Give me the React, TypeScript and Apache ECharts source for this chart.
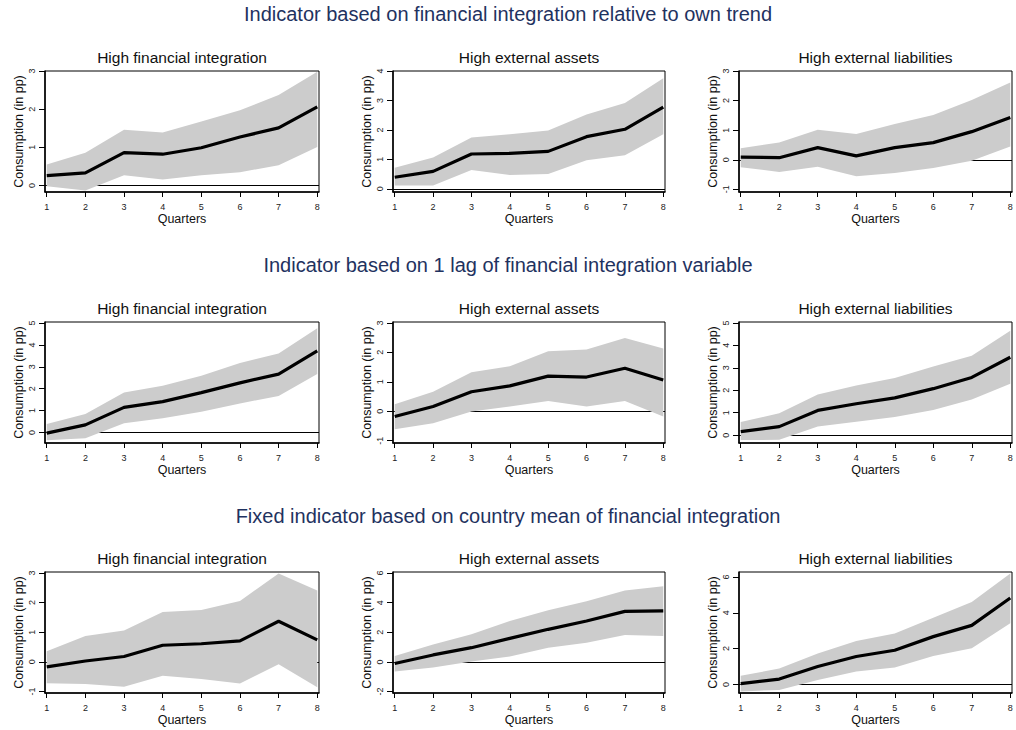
import React, { useEffect, useRef } from 'react';
import * as echarts from 'echarts';

// quarters after the shock
const quarters = [1, 2, 3, 4, 5, 6, 7, 8];

const rowTitles = [
    'Indicator based on financial integration relative to own trend',
    'Indicator based on 1 lag of financial integration variable',
    'Fixed indicator based on country mean of financial integration',
];
const panelTitles = ['High financial integration', 'High external assets', 'High external liabilities'];

// row 1: relative to own trend (fin. integration, assets, liabilities)
const trendMid = [
    [0.26, 0.33, 0.86, 0.82, 0.99, 1.27, 1.51, 2.06],
    [0.39, 0.59, 1.18, 1.2, 1.27, 1.77, 2.02, 2.77],
    [0.09, 0.07, 0.41, 0.13, 0.41, 0.58, 0.95, 1.43],
];
const trendHi = [
    [0.55, 0.86, 1.46, 1.39, 1.68, 1.97, 2.37, 2.98],
    [0.71, 1.06, 1.74, 1.85, 1.98, 2.52, 2.91, 3.75],
    [0.39, 0.58, 1.01, 0.87, 1.21, 1.51, 2.02, 2.61],
];
const trendLo = [
    [-0.02, -0.13, 0.27, 0.16, 0.27, 0.35, 0.53, 1.01],
    [0.11, 0.11, 0.64, 0.47, 0.5, 0.97, 1.14, 1.85],
    [-0.25, -0.41, -0.24, -0.56, -0.45, -0.28, -0.03, 0.45],
];

// row 2: 1 lag
const lagMid = [
    [-0.03, 0.35, 1.15, 1.41, 1.82, 2.27, 2.67, 3.73],
    [-0.18, 0.16, 0.66, 0.86, 1.19, 1.16, 1.46, 1.06],
    [0.16, 0.38, 1.1, 1.4, 1.66, 2.07, 2.57, 3.47],
];
const lagHi = [
    [0.39, 0.85, 1.83, 2.14, 2.59, 3.18, 3.61, 4.77],
    [0.24, 0.66, 1.32, 1.53, 2.04, 2.1, 2.49, 2.13],
    [0.59, 0.97, 1.81, 2.21, 2.54, 3.06, 3.54, 4.65],
];
const lagLo = [
    [-0.36, -0.26, 0.42, 0.65, 0.95, 1.33, 1.67, 2.67],
    [-0.61, -0.41, -0.01, 0.16, 0.35, 0.16, 0.35, -0.18],
    [-0.22, -0.21, 0.38, 0.6, 0.81, 1.12, 1.59, 2.29],
];

// row 3: country mean
const meanMid = [
    [-0.17, 0.03, 0.18, 0.56, 0.61, 0.71, 1.37, 0.74],
    [-0.11, 0.47, 0.96, 1.59, 2.2, 2.76, 3.41, 3.45],
    [0.04, 0.3, 1.0, 1.56, 1.91, 2.67, 3.3, 4.83],
];
const meanHi = [
    [0.36, 0.87, 1.06, 1.68, 1.75, 2.05, 2.98, 2.41],
    [0.4, 1.17, 1.86, 2.76, 3.48, 4.1, 4.82, 5.11],
    [0.48, 0.89, 1.72, 2.43, 2.85, 3.72, 4.61, 6.19],
];
const meanLo = [
    [-0.72, -0.75, -0.84, -0.47, -0.58, -0.73, -0.08, -0.86],
    [-0.65, -0.38, 0.02, 0.36, 0.96, 1.3, 1.82, 1.75],
    [-0.39, -0.31, 0.24, 0.72, 0.94, 1.59, 2.02, 3.41],
];

// y tick labels and y ranges, panel by panel (row-major)
const yTicks = [
    [0, 1, 2, 3], [0, 1, 2, 3, 4], [-1, 0, 1, 2, 3],
    [0, 1, 2, 3, 4, 5], [-1, 0, 1, 2, 3], [0, 1, 2, 3, 4, 5],
    [-1, 0, 1, 2, 3], [-2, 0, 2, 4, 6], [0, 2, 4, 6],
];
const yRange = [
    [-0.17, 3.0], [-0.11, 4.0], [-1.09, 3.0],
    [-0.48, 5.05], [-1.08, 3.03], [-0.35, 5.04],
    [-1.05, 3.03], [-2.1, 6.07], [-0.48, 6.28],
];

const FONT = '"Liberation Sans", Arial, Helvetica, sans-serif';

export default function App() {
    const chartRef = useRef<HTMLDivElement>(null);

    useEffect(() => {
        if (!chartRef.current) return;
        const chart = echarts.init(chartRef.current, null, { renderer: 'svg' });

        const mids = [trendMid, lagMid, meanMid];
        const his = [trendHi, lagHi, meanHi];
        const los = [trendLo, lagLo, meanLo];

        const colLeft = [45, 393, 739];
        const colWidth = [274, 272, 273];
        const rowTop = [71, 322, 572];
        const plotH = 121;
        const rowTitleY = [14, 265, 516];

        const grids: any[] = [];
        const xAxes: any[] = [];
        const yAxes: any[] = [];
        const series: any[] = [];
        const graphics: any[] = [];

        rowTitles.forEach((t, r) => {
            graphics.push({
                type: 'text',
                x: 508,
                y: rowTitleY[r],
                style: { text: t, font: `20px ${FONT}`, fill: '#1f3260', align: 'center', verticalAlign: 'middle' },
            });
        });

        for (let r = 0; r < 3; r++) {
            for (let c = 0; c < 3; c++) {
                const i = r * 3 + c;
                graphics.push({
                    type: 'text',
                    x: colLeft[c] + colWidth[c] / 2,
                    y: rowTop[r] - 14,
                    style: { text: panelTitles[c], font: `15.5px ${FONT}`, fill: '#111', align: 'center', verticalAlign: 'middle' },
                });

                grids.push({
                    left: colLeft[c],
                    top: rowTop[r],
                    width: colWidth[c],
                    height: plotH,
                    show: true,
                    borderColor: '#000',
                    borderWidth: 1,
                    backgroundColor: 'transparent',
                });

                xAxes.push({
                    type: 'value',
                    gridIndex: i,
                    min: 0.955,
                    max: 8.045,
                    name: 'Quarters',
                    nameLocation: 'middle',
                    nameGap: 20,
                    nameTextStyle: { fontFamily: FONT, fontSize: 12.5, color: '#111' },
                    axisLine: { show: true, onZero: false, lineStyle: { color: '#000', width: 1.5 } },
                    axisTick: { show: true, length: 5, customValues: quarters, lineStyle: { color: '#000' } },
                    axisLabel: { customValues: quarters, fontFamily: FONT, fontSize: 9, color: '#222', margin: 10 },
                    splitLine: { show: false },
                });

                yAxes.push({
                    type: 'value',
                    gridIndex: i,
                    min: yRange[i][0],
                    max: yRange[i][1],
                    name: 'Consumption (in pp)',
                    nameLocation: 'middle',
                    nameGap: 20,
                    nameTextStyle: { fontFamily: FONT, fontSize: 12.5, color: '#111' },
                    axisLine: { show: true, onZero: false, lineStyle: { color: '#000', width: 1.5 } },
                    axisTick: { show: true, length: 6, customValues: yTicks[i], lineStyle: { color: '#000' } },
                    axisLabel: { customValues: yTicks[i], rotate: 90, fontFamily: FONT, fontSize: 9, color: '#222', margin: 9 },
                    splitLine: { show: false },
                });

                const lo = los[r][c];
                const hi = his[r][c];
                const mid = mids[r][c];

                // zero reference line, drawn under the band
                series.push({
                    type: 'line',
                    xAxisIndex: i,
                    yAxisIndex: i,
                    z: 1,
                    symbol: 'none',
                    silent: true,
                    lineStyle: { opacity: 0 },
                    data: quarters.map((q, k) => [q, mid[k]]),
                    markLine: {
                        z: 1,
                        silent: true,
                        symbol: ['none', 'none'],
                        label: { show: false },
                        lineStyle: { color: '#000', width: 1, type: 'solid' },
                        data: [{ yAxis: 0 }],
                    },
                });

                // confidence band as one polygon
                series.push({
                    type: 'custom',
                    xAxisIndex: i,
                    yAxisIndex: i,
                    z: 6,
                    silent: true,
                    data: quarters.map((q, k) => [q, lo[k], hi[k]]),
                    renderItem: (params: any, api: any) => {
                        if (params.dataIndex !== 0) return null;
                        const upper = quarters.map((q, k) => api.coord([q, hi[k]]));
                        const lower = quarters.map((q, k) => api.coord([q, lo[k]])).reverse();
                        return {
                            type: 'polygon',
                            shape: { points: upper.concat(lower) },
                            style: { fill: '#cccccc', stroke: 'none' },
                        };
                    },
                });

                series.push({
                    type: 'line',
                    xAxisIndex: i,
                    yAxisIndex: i,
                    z: 7,
                    symbol: 'none',
                    silent: true,
                    lineStyle: { color: '#000', width: 3.2 },
                    data: quarters.map((q, k) => [q, mid[k]]),
                });
            }
        }

        chart.setOption({
            animation: false,
            backgroundColor: '#fff',
            textStyle: { fontFamily: FONT },
            grid: grids,
            xAxis: xAxes,
            yAxis: yAxes,
            series,
            graphic: graphics,
        });

        return () => {
            chart.dispose();
        };
    }, []);

    return (
        <div
            ref={chartRef}
            style={{ position: 'fixed', left: 0, top: 0, width: '1016px', height: '730px', background: '#fff' }}
        />
    );
}
